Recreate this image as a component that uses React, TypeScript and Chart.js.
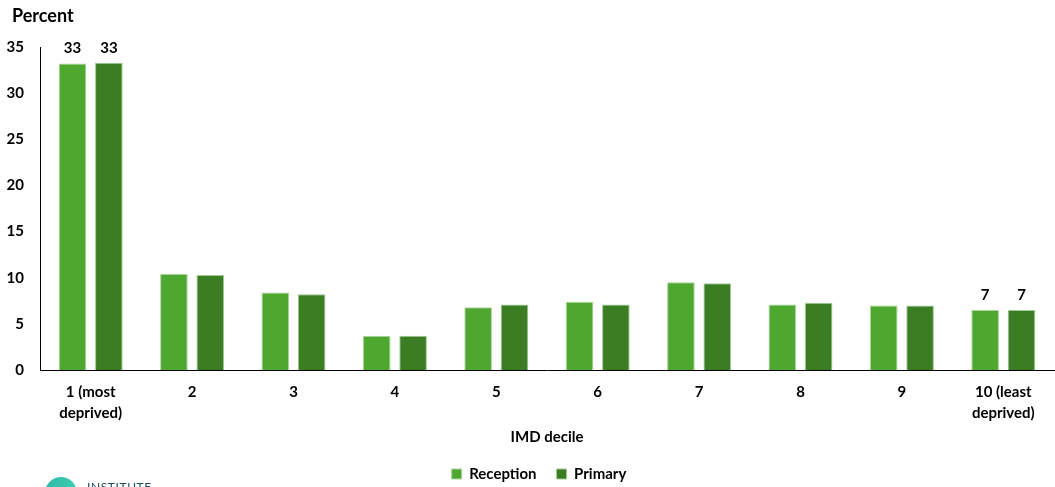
import React, { useEffect, useRef } from "react";
import { Chart, registerables } from "chart.js";

Chart.register(...registerables);

const categories: (string | string[])[] = [
  ["1 (most", "deprived)"],
  "2",
  "3",
  "4",
  "5",
  "6",
  "7",
  "8",
  "9",
  ["10 (least", "deprived)"],
];
const receptionValues = [33.2, 10.4, 8.4, 3.7, 6.8, 7.4, 9.5, 7.1, 7.0, 6.5];
const primaryValues = [33.3, 10.3, 8.2, 3.7, 7.1, 7.1, 9.4, 7.3, 7.0, 6.5];
const labelledIndices = [0, 9];
const yMax = 35;
const yStep = 5;
const yAxisTitle = "Percent";
const xAxisTitle = "IMD decile";

const FONT = "Lato, 'Open Sans', sans-serif";
const TEXT = "#000000";

const valueLabels = {
  id: "valueLabels",
  afterDatasetsDraw(chart: any) {
    const ctx = chart.ctx;
    ctx.save();
    ctx.font = `bold 15px ${FONT}`;
    ctx.fillStyle = TEXT;
    ctx.textAlign = "center";
    ctx.textBaseline = "middle";
    chart.data.datasets.forEach((ds: any, di: number) => {
      const meta = chart.getDatasetMeta(di);
      labelledIndices.forEach((i) => {
        const el = meta.data[i];
        if (!el) return;
        ctx.fillText(String(Math.round(ds.data[i])), el.x, el.y - 15);
      });
    });
    ctx.restore();
  },
};

const yTitle = {
  id: "yTitle",
  afterDraw(chart: any) {
    const ctx = chart.ctx;
    ctx.save();
    ctx.font = `bold 18px ${FONT}`;
    ctx.fillStyle = TEXT;
    ctx.textAlign = "left";
    ctx.textBaseline = "middle";
    ctx.fillText(yAxisTitle, 12, 16);
    ctx.restore();
  },
};

const legendShift = {
  id: "legendShift",
  afterLayout(chart: any) {
    if (chart.legend) {
      chart.legend.left += 12;
      chart.legend.right += 12;
    }
  },
};

export default function App() {
  const ref = useRef<HTMLCanvasElement | null>(null);

  useEffect(() => {
    if (!ref.current) return;
    const chart = new Chart(ref.current, {
      type: "bar",
      data: {
        labels: categories,
        datasets: [
          {
            label: "Reception",
            data: receptionValues,
            backgroundColor: "#4ea72e",
            borderColor: "#a9d39a",
            borderWidth: 1,
            categoryPercentage: 0.717,
            barPercentage: 0.76,
          },
          {
            label: "Primary",
            data: primaryValues,
            backgroundColor: "#3b7d23",
            borderColor: "#a0c993",
            borderWidth: 1,
            categoryPercentage: 0.717,
            barPercentage: 0.76,
          },
        ],
      },
      options: {
        responsive: false,
        maintainAspectRatio: false,
        animation: false,
        layout: { padding: { top: 47, left: 0, right: 1, bottom: -4.5 } },
        plugins: {
          legend: {
            position: "bottom",
            labels: {
              boxWidth: 10,
              boxHeight: 10,
              padding: 20,
              color: TEXT,
              font: { family: FONT, size: 15, weight: "bold" },
            },
          },
          tooltip: { enabled: false },
          title: { display: false },
        },
        scales: {
          x: {
            grid: { display: false, drawTicks: false },
            border: { display: true, color: "#000000", width: 1 },
            ticks: {
              color: TEXT,
              maxRotation: 0,
              autoSkip: false,
              padding: 12,
              font: { family: FONT, size: 15, weight: "bold", lineHeight: 1.4 },
            },
            title: {
              display: true,
              text: xAxisTitle,
              color: TEXT,
              font: { family: FONT, size: 15, weight: "bold", lineHeight: 1.2 },
              padding: { top: -7.5, bottom: 0 },
            },
          },
          y: {
            min: 0,
            max: yMax,
            grid: { display: false, drawTicks: false },
            border: { display: true, color: "#000000", width: 1 },
            afterFit: (scale: any) => {
              scale.width = 40;
            },
            ticks: {
              stepSize: yStep,
              color: TEXT,
              padding: 16,
              font: { family: FONT, size: 15, weight: "bold" },
            },
          },
        },
      },
      plugins: [valueLabels, yTitle, legendShift],
    });
    return () => chart.destroy();
  }, []);

  return (
    <div
      style={{
        position: "fixed",
        left: 0,
        top: 0,
        width: 1055,
        height: 487,
        overflow: "hidden",
        background: "#ffffff",
      }}
    >
      <canvas ref={ref} width={1055} height={487} style={{ display: "block" }} />
      <div
        style={{
          position: "absolute",
          left: 45,
          top: 477,
          width: 32,
          height: 32,
          borderRadius: "50%",
          background: "linear-gradient(90deg, #2fb8a6, #3ccfb0)",
        }}
      />
      <div
        style={{
          position: "absolute",
          left: 87,
          top: 480,
          fontFamily: FONT,
          fontSize: 12,
          letterSpacing: 0.6,
          color: "#1d4f63",
          lineHeight: "14px",
        }}
      >
        INSTITUTE
      </div>
    </div>
  );
}
